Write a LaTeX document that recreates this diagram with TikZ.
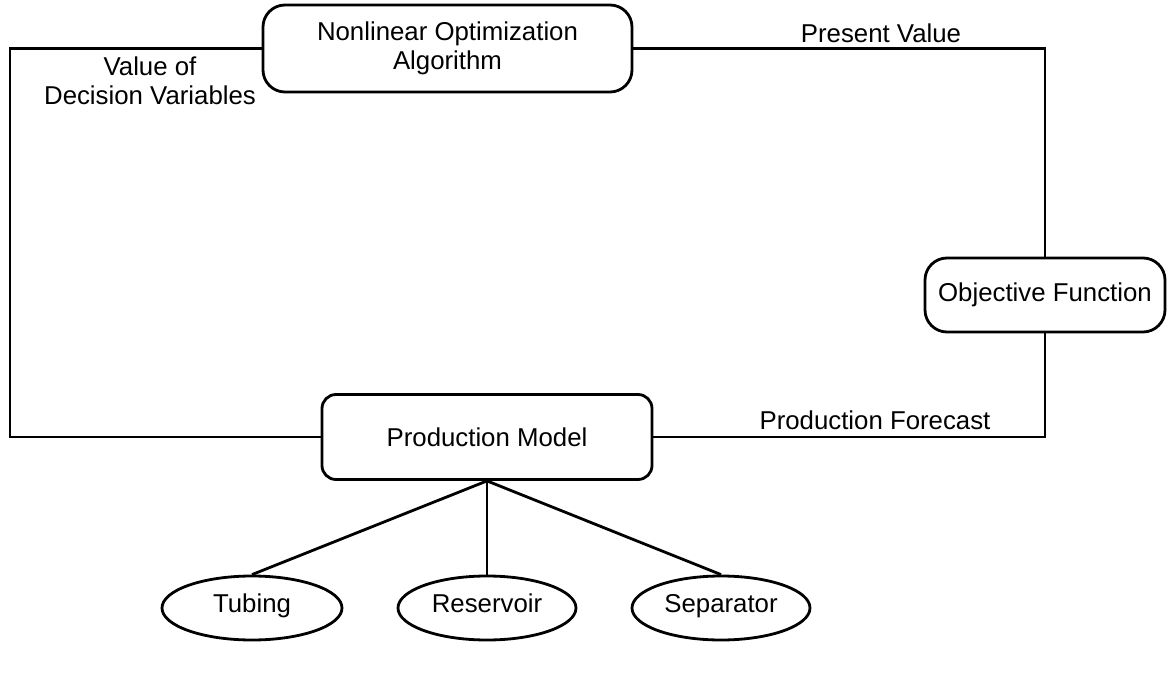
\documentclass[tikz,border=0pt]{standalone}
\usepackage{fontspec}
\setmainfont{Liberation Sans}
\usetikzlibrary{shapes.geometric}
\begin{document}
\begin{tikzpicture}[x=1pt,y=-1pt,
  every node/.style={font=\fontsize{25.8}{29}\selectfont},
  conn/.style={line width=2.8pt},
  rbox/.style={draw,line width=2.8pt,rounded corners=22pt,align=center,inner sep=0pt},
  oval/.style={draw,line width=2.8pt,ellipse,inner sep=0pt,text height=1.0em,text depth=0.04em},
  lbl/.style={align=center,inner sep=0pt}]
\useasboundingbox (0,0) rectangle (1170,687);
\node[rbox,minimum width=369pt,minimum height=87pt] (opt) at (447.5,48.5) {Nonlinear Optimization\\Algorithm};
\node[rbox,minimum width=240pt,minimum height=74pt] (obj) at (1045,295) {Objective Function};
\node[rbox,rounded corners=14pt,minimum width=330pt,minimum height=85pt] (prod) at (487,437) {Production Model};
\node[oval,minimum width=180pt,minimum height=64pt] (tub) at (252,608) {Tubing};
\node[oval,minimum width=178pt,minimum height=64pt] (res) at (487,608) {Reservoir};
\node[oval,minimum width=178pt,minimum height=64pt] (sep) at (721,608) {Separator};
\coordinate (L) at (10,240);
\draw[conn] (opt.west) -| (L) |- (prod.west);
\draw[conn] (opt.east) -| (obj.north);
\draw[conn] (obj.south) |- (prod.east);
\draw[conn] (prod.south) -- (tub.north);
\draw[conn,line width=2pt] (prod.south) -- (res.north);
\draw[conn] (prod.south) -- (sep.north);
\node[lbl] (dv) at (150,81) {Value of\\Decision Variables};
\node[lbl] (pv) at (881,33) {Present Value};
\node[lbl] (pf) at (875,420) {Production Forecast};
\end{tikzpicture}
\end{document}
